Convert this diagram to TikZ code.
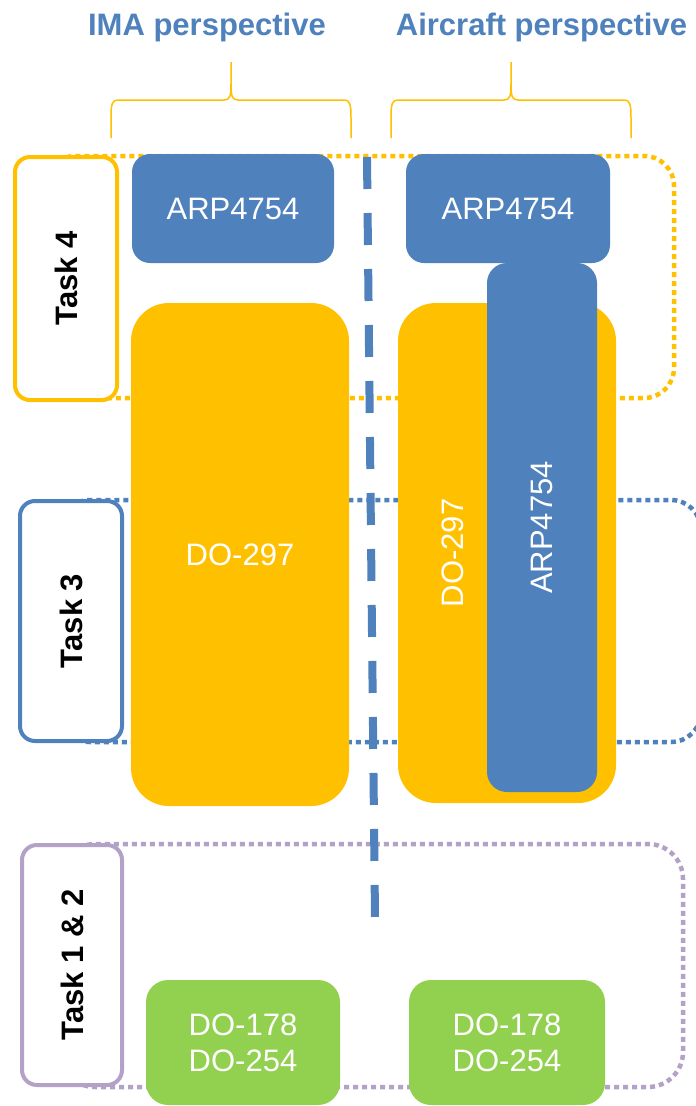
\documentclass[tikz,border=0pt]{standalone}
\usepackage{fontspec}
\setmainfont{Liberation Sans}
\definecolor{cblue}{HTML}{4F81BD}
\definecolor{cgold}{HTML}{FFC000}
\definecolor{cgreen}{HTML}{92D050}
\definecolor{cpurple}{HTML}{B3A2C7}
\begin{document}
\begin{tikzpicture}[x=1pt,y=-1pt,
  bigfont/.style={font=\fontsize{31}{36}\selectfont},
  blk/.style={rectangle, rounded corners=#1, inner sep=0pt, text=white, bigfont, align=center},
  taskbox/.style={rectangle, rounded corners=15pt, draw=#1, line width=4pt, fill=white, inner sep=0pt,
    font=\fontsize{31}{36}\selectfont\bfseries, rotate=90},
  dotbox/.style={draw=#1, line width=4.5pt, dash pattern=on 5pt off 4pt, rounded corners=30pt},
  titletext/.style={text=cblue, font=\fontsize{31}{36}\selectfont\bfseries, anchor=base, inner sep=0pt},
  bracepath/.style={draw=cgold, line width=1.5pt},
  dashline/.style={draw=cblue, line width=8pt, dash pattern=on 32pt off 24pt}
]
\clip (0,0) rectangle (696,1106);
\fill[white] (0,0) rectangle (696,1106);

% titles
\node[titletext] (ima) at (207,35) {IMA perspective};
\node[titletext] (air) at (541.5,35) {Aircraft perspective};

% braces
\draw[bracepath] (111,138) -- (111,118) .. controls (111,104) and (112,100) .. (118,100) -- (224,100)
  .. controls (230,100) and (231,96) .. (231,84) -- (231,62)
  (231,84) .. controls (231,96) and (232,100) .. (238,100) -- (344,100)
  .. controls (350,100) and (351,104) .. (351,118) -- (351,138);
\draw[bracepath] (391,138) -- (391,118) .. controls (391,104) and (392,100) .. (398,100) -- (504,100)
  .. controls (510,100) and (511,96) .. (511,84) -- (511,62)
  (511,84) .. controls (511,96) and (512,100) .. (518,100) -- (624,100)
  .. controls (630,100) and (631,104) .. (631,118) -- (631,138);

% dotted task regions
\draw[dotbox=cgold] (45,156) rectangle (674,398);
\draw[dotbox=cblue] (60,500) rectangle (701,742);
\draw[dotbox=cpurple, rounded corners=35pt] (60,844) rectangle (683,1087);

% dashed divider
\coordinate (dtop) at (367,157);
\coordinate (dbot) at (375,917);
\draw[dashline] (dtop) -- (dbot);

% standard boxes
\node[blk=18pt, fill=cblue, minimum width=202pt, minimum height=109pt] (arpL) at (233,208.5) {ARP4754};
\node[blk=18pt, fill=cblue, minimum width=204pt, minimum height=109pt] (arpR) at (508,208.5) {ARP4754};
\node[blk=38pt, fill=cgold, minimum width=218pt, minimum height=503pt] (doL) at (240,554.5) {DO-297};
\node[blk=38pt, fill=cgold, minimum width=218pt, minimum height=500pt] (doR) at (507,553) {};
\node[blk=0pt, rotate=90] (doRt) at (453,553) {DO-297};
\node[blk=20pt, fill=cblue, minimum width=529pt, minimum height=110pt, rotate=90] (arpV) at (542,527.5) {ARP4754};
\node[blk=22pt, fill=cgreen, minimum width=194pt, minimum height=125pt] (gL) at (243,1042.5) {DO-178\\DO-254};
\node[blk=22pt, fill=cgreen, minimum width=196pt, minimum height=125pt] (gR) at (507,1042.5) {DO-178\\DO-254};

% task labels
\node[taskbox=cgold, minimum width=243pt, minimum height=102pt] (t4) at (66,278.5) {Task 4};
\node[taskbox=cblue, minimum width=240pt, minimum height=102pt] (t3) at (71,621) {Task 3};
\node[taskbox=cpurple, minimum width=240pt, minimum height=100pt] (t12) at (72,965) {Task 1 \& 2};
\end{tikzpicture}
\end{document}
